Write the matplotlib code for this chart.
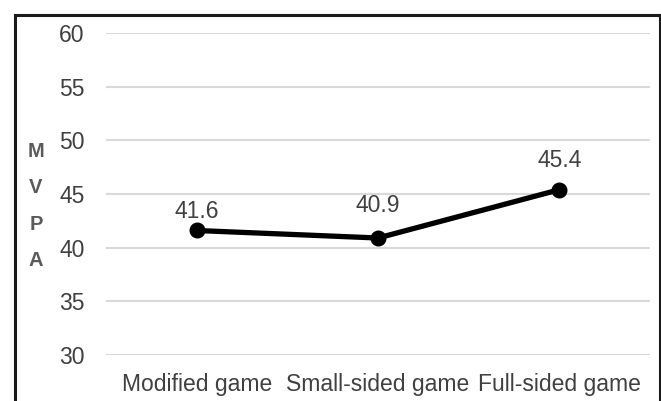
import matplotlib.pyplot as plt
from matplotlib.lines import Line2D

plt.rcParams['font.family'] = ['Liberation Sans', 'DejaVu Sans']

categories = ["Modified game", "Small-sided game", "Full-sided game"]
mvpa = [41.6, 40.9, 45.4]
y_ticks = [30, 35, 40, 45, 50, 55, 60]

# vertical offsets (pixels) for the value labels
label_offsets = [19, 33, 29]

W, H = 661, 401
fig = plt.figure(figsize=(W / 100, H / 100), dpi=100)
ax = fig.add_axes([106 / W, 1 - 355 / H, 544 / W, (355 - 33) / H])

x = list(range(len(categories)))
ax.plot(x, mvpa, color='black', linewidth=3.8, marker='o', markersize=10.5,
        solid_joinstyle='round', zorder=3)

for xi, v, off in zip(x, mvpa, label_offsets):
    ax.annotate(f"{v:.1f}", (xi, v), xytext=(0, off), textcoords='offset pixels',
                ha='center', va='center', fontsize=16.5, color='#404040')

ax.set_xlim(-0.5, len(categories) - 0.5)
ax.set_ylim(30, 60)
ax.set_yticks(y_ticks)
ax.set_xticks(x)
ax.set_xticklabels(categories)
ax.tick_params(axis='both', length=0, labelsize=16.5, labelcolor='#404040')
ax.tick_params(axis='y', pad=15.5)
ax.tick_params(axis='x', pad=13)
ax.grid(axis='y', color='#d9d9d9', linewidth=1.5)
ax.set_axisbelow(True)
for s in ax.spines.values():
    s.set_visible(False)

# stacked axis title
fig.text(36 / W, 1 - 206 / H, "M\nV\nP\nA", ha='center', va='center',
         fontsize=14.5, fontweight='bold', color='#5a5a5a', linespacing=2.15)

# frame around the chart (open at the bottom)
bx0, bx1, by = 14.5 / W, 659.5 / W, 1 - 14.5 / H
for xs, ys in [([bx0, bx0], [0, by]), ([bx0, bx1], [by, by]), ([bx1, bx1], [by, 0])]:
    fig.add_artist(Line2D(xs, ys, color='#1a1a1a', linewidth=2.2,
                          transform=fig.transFigure))

fig.savefig("out.png", dpi=100, facecolor='white')
